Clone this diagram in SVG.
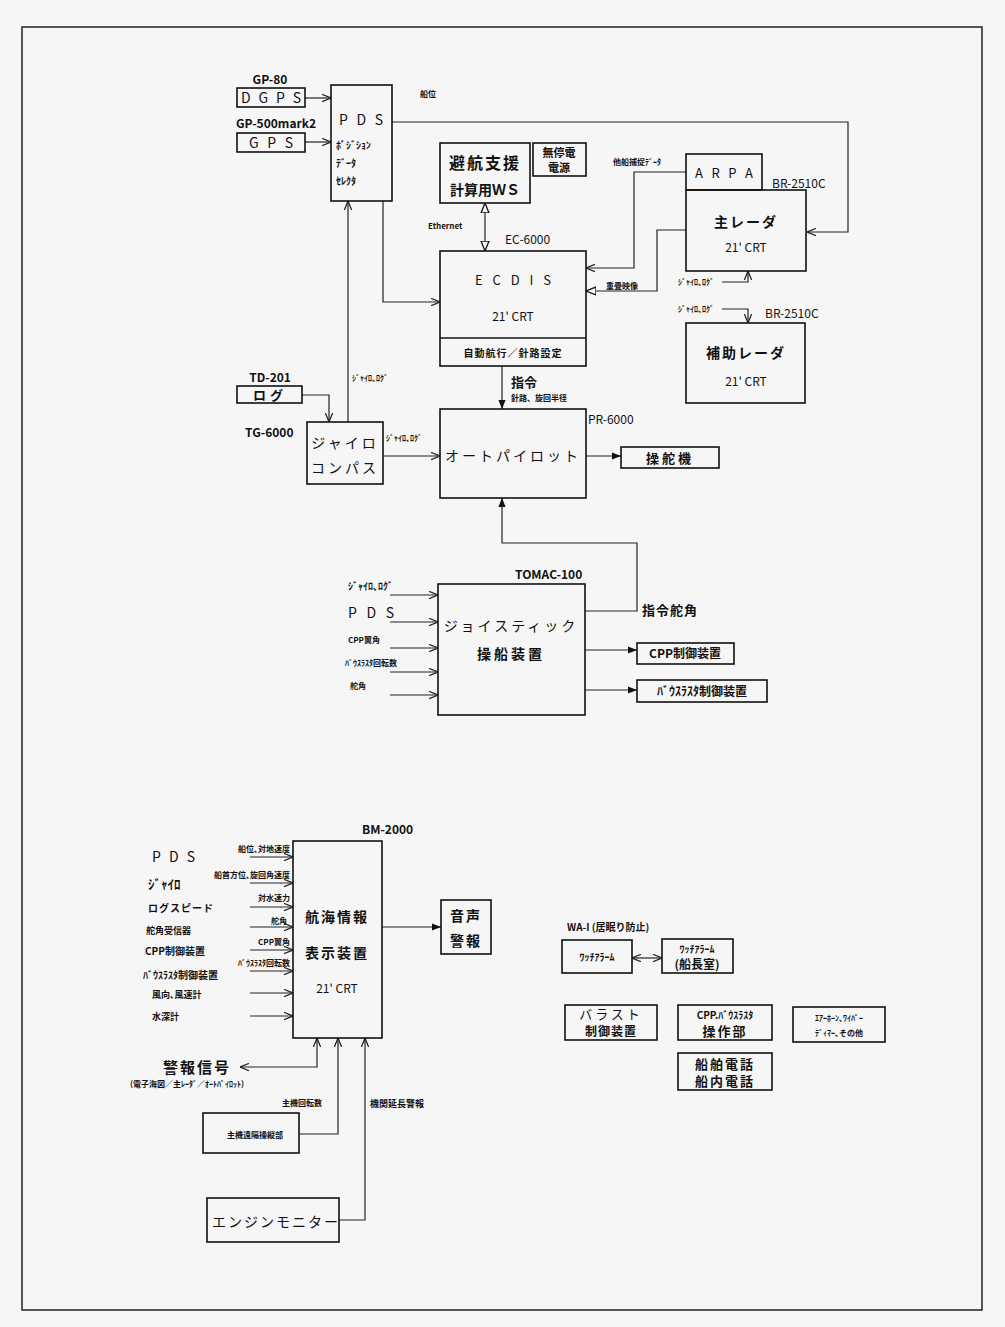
<svg xmlns="http://www.w3.org/2000/svg" width="1005" height="1327" viewBox="0 0 1005 1327">
<style>
.bx{fill:none;stroke:#111;stroke-width:1.6}
.ln{fill:none;stroke:#222;stroke-width:1.2}
text{font-family:"Noto Sans CJK JP","Noto Sans",sans-serif;fill:#111}
.m{text-anchor:middle}
.e{text-anchor:end}
.b{font-weight:bold}
.s8{font-size:8px;font-weight:bold}
.s12{font-size:12px}
.s14{font-size:14px}
</style>
<defs>
<marker id="a" viewBox="0 0 10 10" refX="10" refY="5" markerWidth="9" markerHeight="9" orient="auto-start-reverse" markerUnits="userSpaceOnUse"><path d="M0,1 L10,5 L0,9" fill="none" stroke="#222" stroke-width="1.4"/></marker>
<marker id="f" viewBox="0 0 10 10" refX="10" refY="5" markerWidth="9" markerHeight="9" orient="auto-start-reverse" markerUnits="userSpaceOnUse"><path d="M0,1 L10,5 L0,9 Z" fill="#111"/></marker>
<marker id="o" viewBox="0 0 10 10" refX="10" refY="5" markerWidth="10" markerHeight="10" orient="auto-start-reverse" markerUnits="userSpaceOnUse"><path d="M0,1 L10,5 L0,9 Z" fill="#f6f6f6" stroke="#111" stroke-width="1.3"/></marker>
</defs>
<rect x="0" y="0" width="1005" height="1327" fill="#f6f6f6"/>
<rect x="22" y="27" width="960" height="1283" fill="none" stroke="#222" stroke-width="1.5"/>

<g id="connectors">
<line class="ln" x1="305" y1="98" x2="331" y2="98" marker-end="url(#a)"/>
<line class="ln" x1="305" y1="142" x2="331" y2="142" marker-end="url(#a)"/>
<polyline class="ln" points="392,122 848,122 848,232 807,232" marker-end="url(#a)"/>
<line class="ln" x1="485" y1="203" x2="485" y2="251" stroke-width="1.8" marker-start="url(#o)" marker-end="url(#o)"/>
<polyline class="ln" points="686,172 634,172 634,268 586,268" marker-end="url(#a)"/>
<polyline class="ln" points="686,230 657,230 657,291 586,291" marker-end="url(#o)"/>
<polyline class="ln" points="722,282 748,282 748,271" marker-end="url(#a)"/>
<polyline class="ln" points="722,309 748,309 748,323" marker-end="url(#a)"/>
<line class="ln" x1="502" y1="366" x2="502" y2="409" stroke-width="1.8" marker-end="url(#f)"/>
<line class="ln" x1="586" y1="456" x2="621" y2="456" marker-end="url(#f)"/>
<polyline class="ln" points="302,395 329,395 329,422" marker-end="url(#a)"/>
<line class="ln" x1="348" y1="422" x2="348" y2="201" marker-end="url(#a)"/>
<polyline class="ln" points="383,201 383,302 440,302" marker-end="url(#a)"/>
<line class="ln" x1="383" y1="456" x2="440" y2="456" marker-end="url(#a)"/>
<line class="ln" x1="390" y1="595" x2="438" y2="595" marker-end="url(#a)"/>
<line class="ln" x1="390" y1="622" x2="438" y2="622" marker-end="url(#a)"/>
<line class="ln" x1="390" y1="648" x2="438" y2="648" marker-end="url(#a)"/>
<line class="ln" x1="390" y1="672" x2="438" y2="672" marker-end="url(#a)"/>
<line class="ln" x1="390" y1="695" x2="438" y2="695" marker-end="url(#a)"/>
<polyline class="ln" points="585,611 637,611 637,543 502,543 502,498" marker-end="url(#f)"/>
<line class="ln" x1="585" y1="650" x2="637" y2="650" marker-end="url(#f)"/>
<line class="ln" x1="585" y1="690" x2="637" y2="690" marker-end="url(#f)"/>
<line class="ln" x1="250" y1="857" x2="293" y2="857" marker-end="url(#a)"/>
<line class="ln" x1="250" y1="883" x2="293" y2="883" marker-end="url(#a)"/>
<line class="ln" x1="250" y1="907" x2="293" y2="907" marker-end="url(#a)"/>
<line class="ln" x1="250" y1="927" x2="293" y2="927" marker-end="url(#a)"/>
<line class="ln" x1="250" y1="950" x2="293" y2="950" marker-end="url(#a)"/>
<line class="ln" x1="250" y1="971" x2="293" y2="971" marker-end="url(#a)"/>
<line class="ln" x1="250" y1="993" x2="293" y2="993" marker-end="url(#a)"/>
<line class="ln" x1="250" y1="1016" x2="293" y2="1016" marker-end="url(#a)"/>
<line class="ln" x1="382" y1="927" x2="441" y2="927" marker-end="url(#f)"/>
<polyline class="ln" points="240,1067 317,1067 317,1038" marker-start="url(#a)" marker-end="url(#a)"/>
<polyline class="ln" points="299,1134 338,1134 338,1038" marker-end="url(#a)"/>
<polyline class="ln" points="339,1220 365,1220 365,1038" marker-end="url(#a)"/>
<line class="ln" x1="632" y1="958" x2="662" y2="958" marker-start="url(#a)" marker-end="url(#a)"/>
</g>

<g id="pds">
<rect class="bx" x="331" y="85" width="61" height="116"/>
<text class="m s14" x="361" y="125" textLength="44" lengthAdjust="spacing">P D S</text>
<text x="336" y="149" font-size="10" font-weight="bold">ﾎﾟｼﾞｼｮﾝ</text>
<text x="336" y="167" font-size="10" font-weight="bold">ﾃﾞｰﾀ</text>
<text x="336" y="185" font-size="10" font-weight="bold">ｾﾚｸﾀ</text>
<text x="420" y="97" class="s8">船位</text>
</g>
<g id="dgps">
<text class="m s12 b" x="270" y="84">GP-80</text>
<rect class="bx" x="237" y="88" width="68" height="19"/>
<text class="m s14" x="271" y="103" textLength="60" lengthAdjust="spacing">D G P S</text>
</g>
<g id="gps">
<text class="m s12 b" x="276" y="128">GP-500mark2</text>
<rect class="bx" x="237" y="133" width="68" height="19"/>
<text class="m s14" x="271" y="148" textLength="44" lengthAdjust="spacing">G P S</text>
</g>
<g id="ws">
<rect class="bx" x="440" y="143" width="90" height="60"/>
<text class="m b" x="485" y="169" font-size="16" letter-spacing="2">避航支援</text>
<text class="m b" x="485" y="195" font-size="14">計算用ＷＳ</text>
</g>
<g id="ups">
<rect class="bx" x="533" y="143" width="53" height="33"/>
<text class="m b" x="559" y="157" font-size="11">無停電</text>
<text class="m b" x="559" y="172" font-size="11">電源</text>
</g>
<g id="ecdis">
<text x="428" y="229" font-size="8" font-weight="bold">Ethernet</text>
<text class="s12" x="505" y="244">EC-6000</text>
<rect class="bx" x="440" y="251" width="146" height="115"/>
<line class="bx" x1="440" y1="338" x2="586" y2="338"/>
<text class="m" x="513" y="285" font-size="13" textLength="76" lengthAdjust="spacing">E C D I S</text>
<text class="m s12" x="513" y="321">21' CRT</text>
<text class="m b" x="513" y="357" font-size="10" letter-spacing="1">自動航行／針路設定</text>
</g>
<g id="main-radar">
<rect class="bx" x="686" y="154" width="76" height="36"/>
<text class="m" x="724" y="178" font-size="13" textLength="58" lengthAdjust="spacing">A R P A</text>
<text class="s12" x="772" y="188">BR-2510C</text>
<rect class="bx" x="686" y="190" width="120" height="81"/>
<text class="m s14 b" x="746" y="227" letter-spacing="2">主レーダ</text>
<text class="m s12" x="746" y="252">21' CRT</text>
<text class="s8" x="613" y="165">他船捕捉ﾃﾞｰﾀ</text>
<text class="s8" x="606" y="289">重畳映像</text>
<text class="s8" x="678" y="285">ｼﾞｬｲﾛ､ﾛｸﾞ</text>
</g>
<g id="aux-radar">
<text class="s8" x="678" y="312">ｼﾞｬｲﾛ､ﾛｸﾞ</text>
<text class="s12" x="765" y="318">BR-2510C</text>
<rect class="bx" x="686" y="323" width="119" height="80"/>
<text class="m s14 b" x="746" y="358" letter-spacing="2">補助レーダ</text>
<text class="m s12" x="746" y="386">21' CRT</text>
</g>
<g id="autopilot">
<text class="b" x="511" y="387" font-size="13">指令</text>
<text class="s8" x="511" y="401">針路、旋回半径</text>
<rect class="bx" x="440" y="409" width="146" height="89"/>
<text class="m s14" x="513" y="461" letter-spacing="3">オートパイロット</text>
<text class="s12" x="588" y="424">PR-6000</text>
</g>
<g id="steering">
<rect class="bx" x="621" y="447" width="98" height="21"/>
<text class="m b" x="670" y="463" font-size="13" letter-spacing="3">操舵機</text>
</g>
<g id="log">
<text class="m s12 b" x="270" y="382">TD-201</text>
<rect class="bx" x="237" y="386" width="65" height="17"/>
<text class="m b" x="270" y="400" font-size="13" letter-spacing="4">ログ</text>
</g>
<g id="gyro">
<text class="s12 b" x="245" y="437">TG-6000</text>
<rect class="bx" x="307" y="422" width="76" height="62"/>
<text class="m s14" x="345" y="448" letter-spacing="3">ジャイロ</text>
<text class="m s14" x="345" y="473" letter-spacing="3">コンパス</text>
<text class="s8" x="352" y="381">ｼﾞｬｲﾛ､ﾛｸﾞ</text>
<text class="s8" x="386" y="441">ｼﾞｬｲﾛ､ﾛｸﾞ</text>
</g>
<g id="joystick">
<text class="s12 b" x="515" y="579">TOMAC-100</text>
<rect class="bx" x="438" y="584" width="147" height="131"/>
<text class="m s14" x="511" y="631" letter-spacing="3">ジョイスティック</text>
<text class="m s14 b" x="511" y="659" letter-spacing="3">操船装置</text>
<text x="348" y="590" font-size="10" font-weight="bold">ｼﾞｬｲﾛ､ﾛｸﾞ</text>
<text class="s14" x="348" y="618" textLength="46" lengthAdjust="spacing">P D S</text>
<text class="s8" x="348" y="643">CPP翼角</text>
<text class="s8" x="345" y="666">ﾊﾞｳｽﾗｽﾀ回転数</text>
<text class="s8" x="350" y="689">舵角</text>
<text class="b" x="642" y="615" font-size="13" letter-spacing="1">指令舵角</text>
</g>
<g id="cpp-ctrl">
<rect class="bx" x="637" y="643" width="97" height="21"/>
<text class="m s12 b" x="685" y="658">CPP制御装置</text>
</g>
<g id="bow-ctrl">
<rect class="bx" x="637" y="680" width="130" height="22"/>
<text class="m s12 b" x="702" y="696">ﾊﾞｳｽﾗｽﾀ制御装置</text>
</g>
<g id="bm2000">
<text class="s12 b" x="362" y="834">BM-2000</text>
<rect class="bx" x="293" y="841" width="89" height="197"/>
<text class="m s14 b" x="337" y="922" letter-spacing="2">航海情報</text>
<text class="m s14 b" x="337" y="958" letter-spacing="2">表示装置</text>
<text class="m s12" x="337" y="993">21' CRT</text>
<text class="e s8" x="290" y="852">船位､対地速度</text>
<text class="e s8" x="290" y="878">船首方位､旋回角速度</text>
<text class="e s8" x="290" y="901">対水速力</text>
<text class="e s8" x="287" y="924">舵角</text>
<text class="e s8" x="290" y="945">CPP翼角</text>
<text class="e s8" x="290" y="966">ﾊﾞｳｽﾗｽﾀ回転数</text>
<text class="s14" x="152" y="862" textLength="43" lengthAdjust="spacing">P D S</text>
<text x="148" y="889" font-size="13" font-weight="bold">ｼﾞｬｲﾛ</text>
<text x="148" y="912" font-size="10" font-weight="bold" letter-spacing="1">ログスピード</text>
<text x="146" y="934" font-size="9" font-weight="bold">舵角受信器</text>
<text x="145" y="955" font-size="10" font-weight="bold">CPP制御装置</text>
<text x="143" y="979" font-size="10" font-weight="bold">ﾊﾞｳｽﾗｽﾀ制御装置</text>
<text x="152" y="998" font-size="9" font-weight="bold">風向､風速計</text>
<text x="152" y="1020" font-size="9" font-weight="bold">水深計</text>
</g>
<g id="voice-alarm">
<rect class="bx" x="441" y="900" width="50" height="54"/>
<text class="m s14 b" x="466" y="921" letter-spacing="2">音声</text>
<text class="m s14 b" x="466" y="946" letter-spacing="2">警報</text>
</g>
<g id="alarm-signal">
<text class="b" x="163" y="1073" font-size="15" letter-spacing="2">警報信号</text>
<text class="s8" x="130" y="1087">(電子海図／主ﾚｰﾀﾞ／ｵｰﾄﾊﾟｲﾛｯﾄ)</text>
</g>
<g id="main-engine">
<text class="s8" x="282" y="1106">主機回転数</text>
<rect class="bx" x="203" y="1113" width="96" height="40"/>
<text class="m s8" x="255" y="1138">主機遠隔操縦部</text>
</g>
<g id="engine-monitor">
<text x="370" y="1107" font-size="9" font-weight="bold">機関延長警報</text>
<rect class="bx" x="207" y="1198" width="132" height="44"/>
<text x="212" y="1227" class="s14" letter-spacing="2">エンジンモニター</text>
</g>
<g id="watch-alarm">
<text x="567" y="931" font-size="10" font-weight="bold">WA-I (居眠り防止)</text>
<rect class="bx" x="562" y="940" width="70" height="33"/>
<text class="m b" x="597" y="961" font-size="10">ﾜｯﾁｱﾗｰﾑ</text>
</g>
<g id="watch-alarm-captain">
<rect class="bx" x="662" y="939" width="71" height="34"/>
<text class="m b" x="697" y="953" font-size="10">ﾜｯﾁｱﾗｰﾑ</text>
<text class="m b" x="697" y="969" font-size="12">(船長室)</text>
</g>
<g id="ballast">
<rect class="bx" x="565" y="1005" width="92" height="35"/>
<text class="m" x="611" y="1019" font-size="13" letter-spacing="3">バラスト</text>
<text class="m b" x="611" y="1036" font-size="12" letter-spacing="1">制御装置</text>
</g>
<g id="cpp-op">
<rect class="bx" x="678" y="1005" width="94" height="35"/>
<text class="m b" x="725" y="1019" font-size="10">CPP.ﾊﾞｳｽﾗｽﾀ</text>
<text class="m b" x="725" y="1036" font-size="13" letter-spacing="2">操作部</text>
</g>
<g id="horn">
<rect class="bx" x="793" y="1007" width="92" height="35"/>
<text class="m s8" x="839" y="1021">ｴｱｰﾎｰﾝ､ﾜｲﾊﾟｰ</text>
<text class="m s8" x="839" y="1036">ﾃﾞｨﾏｰ､その他</text>
</g>
<g id="phone">
<rect class="bx" x="678" y="1053" width="94" height="37"/>
<text class="m b" x="725" y="1069" font-size="13" letter-spacing="2">船舶電話</text>
<text class="m b" x="725" y="1086" font-size="13" letter-spacing="2">船内電話</text>
</g>
</svg>
